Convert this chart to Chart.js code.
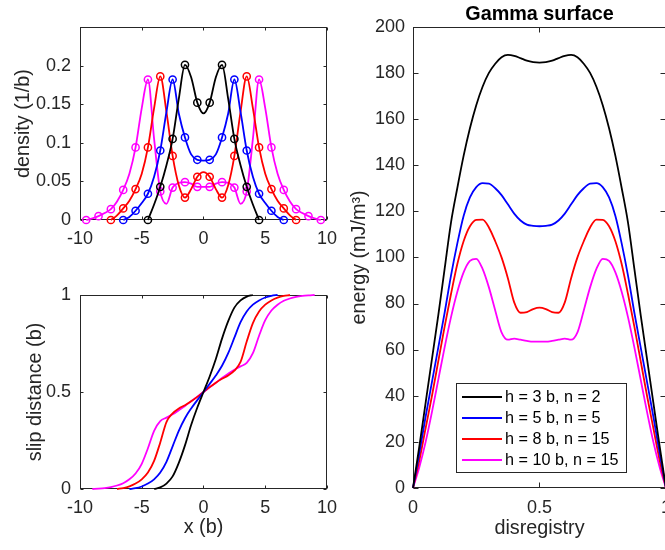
<!DOCTYPE html>
<html><head><meta charset="utf-8">
<script src="https://cdn.jsdelivr.net/npm/chart.js@4/dist/chart.umd.min.js"></script>
<style>
html,body{margin:0;padding:0;background:#fff;overflow:hidden;width:665px;height:550px;}
canvas{position:absolute;}
</style></head><body>
<canvas id="c1" width="345" height="250" style="left:0;top:0"></canvas>
<canvas id="c2" width="345" height="280" style="left:0;top:270px"></canvas>
<canvas id="c3" width="340" height="550" style="left:340px;top:0"></canvas>
<script>
// ---------- DATA ----------
const seriesLabels = ['h = 3 b, n = 2', 'h = 5 b, n = 5', 'h = 8 b, n = 15', 'h = 10 b, n = 15'];
const seriesColors = ['#000000', '#0000ff', '#ff0000', '#ff00ff'];

// density (1/b) vs x (b)
const densityX = [-9.5,-9,-8.5,-8,-7.5,-7,-6.5,-6,-5.5,-5,-4.5,-4,-3.5,-3,-2.5,-2,-1.5,-1,-0.5,0,0.5,1,1.5,2,2.5,3,3.5,4,4.5,5,5.5,6,6.5,7,7.5,8,8.5,9,9.5];
const densityH3 = [null,null,null,null,null,null,null,null,null,null,
  0,0.020,0.043,0.071,0.105,0.157,0.201,0.185,0.152,0.138,0.152,0.185,0.201,0.157,0.105,0.071,0.043,0.020,0,
  null,null,null,null,null,null,null,null,null,null];
const densityH5 = [null,null,null,null,null,null,
  0,0.004,0.012,0.022,0.034,0.056,0.090,0.140,0.182,0.138,0.107,0.085,0.078,0.077,0.078,0.085,0.107,0.138,0.182,0.140,0.090,0.056,0.034,0.022,0.012,0.004,0,
  null,null,null,null,null,null];
const densityH8 = [null,null,null,null,
  0,0.006,0.015,0.025,0.040,0.060,0.094,0.145,0.186,0.140,0.083,0.045,0.029,0.040,0.056,0.062,0.056,0.040,0.029,0.045,0.083,0.140,0.186,0.145,0.094,0.060,0.040,0.025,0.015,0.006,0,
  null,null,null,null];
const densityH10 = [0,0.002,0.005,0.009,0.014,0.024,0.039,0.060,0.094,0.145,0.182,0.105,0.037,0.021,0.042,0.048,0.049,0.047,0.043,0.043,
  0.043,0.047,0.049,0.048,0.042,0.021,0.037,0.105,0.182,0.145,0.094,0.060,0.039,0.024,0.014,0.009,0.005,0.002,0];

// slip distance (b) vs x (b)
const slipX = [-9,-8.5,-8,-7.5,-7,-6.5,-6,-5.5,-5,-4.5,-4,-3.5,-3,-2.5,-2,-1.5,-1,-0.5,0,0.5,1,1.5,2,2.5,3,3.5,4,4.5,5,5.5,6,6.5,7,7.5,8,8.5,9];
const slipH3 = [null,null,null,null,null,null,null,null,null,null,
  0,0.008,0.028,0.065,0.135,0.225,0.33,0.42,0.5,0.58,0.67,0.775,0.865,0.935,0.972,0.992,1,
  null,null,null,null,null,null,null,null,null,null];
const slipH5 = [null,null,null,null,null,null,
  0,0.004,0.013,0.028,0.05,0.085,0.14,0.22,0.3,0.365,0.415,0.458,0.5,0.542,0.585,0.635,0.7,0.78,0.86,0.915,0.95,0.972,0.987,0.996,1,
  null,null,null,null,null,null];
const slipH8 = [null,null,null,null,
  0,0.005,0.014,0.028,0.05,0.085,0.145,0.24,0.345,0.39,0.415,0.432,0.452,0.475,0.5,0.525,0.548,0.568,0.585,0.61,0.655,0.76,0.855,0.915,0.95,0.972,0.986,0.995,1,
  null,null,null,null];
const slipH10 = [0,0.002,0.005,0.01,0.018,0.03,0.05,0.08,0.13,0.21,0.3,0.35,0.368,0.385,0.406,0.428,0.452,0.476,0.5,
  0.524,0.548,0.572,0.594,0.615,0.632,0.65,0.7,0.79,0.87,0.92,0.95,0.97,0.982,0.99,0.995,0.998,1];

// Gamma surface: energy (mJ/m^2) vs disregistry
const gammaX = [0,0.025,0.05,0.075,0.1,0.125,0.15,0.175,0.2,0.225,0.25,0.275,0.3,0.325,0.35,0.375,0.4,0.425,0.45,0.475,0.5,
  0.525,0.55,0.575,0.6,0.625,0.65,0.675,0.7,0.725,0.75,0.775,0.8,0.825,0.85,0.875,0.9,0.925,0.95,0.975,1];
const gammaH3 = [0,18,37,56,75,95,115,130,144,156,166,174,180,184,186.8,187.8,187.4,186.4,185.3,184.7,184.5,
  184.7,185.3,186.4,187.4,187.8,186.8,184,180,174,166,156,144,130,115,95,75,56,37,18,0];
const gammaH5 = [0,15,31,46,61,76,92,106,118,126,130.5,132.2,132,130,127,123,119,116,114.2,113.7,113.5,
  113.7,114.2,116,119,123,127,130,132,132.2,130.5,126,118,106,92,76,61,46,31,15,0];
const gammaH8 = [0,12,26,40,55,70,84,97,107,113.5,116.3,116.4,113,107,100,91,80.5,76,76.3,77.6,78.2,
  77.6,76.3,76,80.5,91,100,107,113,116.4,116.3,113.5,107,97,84,70,55,40,26,12,0];
const gammaH10 = [0,9,20,33,47,61,74,85,93.5,98.5,99.4,95,87,77,67.5,64.3,64.8,64.3,63.8,63.5,63.5,
  63.5,63.8,64.3,64.8,64.3,67.5,77,87,95,99.4,98.5,93.5,85,74,61,47,33,20,9,0];

// tick labels
const densityYTicks = [0, 0.05, 0.1, 0.15, 0.2];
const xTicksLeft = [-10, -5, 0, 5, 10];
const slipYTicks = [0, 0.5, 1];
const gammaXTicks = [0, 0.5, 1];
const gammaYTicks = [0, 20, 40, 60, 80, 100, 120, 140, 160, 180, 200];

// ---------- HELPERS ----------
const FONT = '"Liberation Sans", Arial, Helvetica, sans-serif';
const AXC = '#262626';
Chart.defaults.font.family = FONT;
Chart.defaults.color = AXC;

const toPts = (xs, ys) => xs.map((x, i) => ({x: x, y: ys[i]})).filter(p => p.y !== null);
const fmt = v => String(Math.round(v * 1e6) / 1e6);

function framePlugin(tickLen) {
  return {
    id: 'frame',
    beforeDatasetsDraw(chart) {
      const {ctx, chartArea: a, scales} = chart;
      ctx.save();
      ctx.strokeStyle = AXC; ctx.lineWidth = 1;
      const L = Math.round(a.left) + 0.5, R = Math.round(a.right) - 0.5;
      const T = Math.round(a.top) + 0.5, B = Math.round(a.bottom) - 0.5;
      ctx.strokeRect(L, T, R - L, B - T);
      ctx.beginPath();
      scales.x.ticks.forEach(t => {
        const p = Math.round(scales.x.getPixelForValue(t.value)) + 0.5;
        ctx.moveTo(p, B); ctx.lineTo(p, B - tickLen);
        ctx.moveTo(p, T); ctx.lineTo(p, T + tickLen);
      });
      scales.y.ticks.forEach(t => {
        const p = Math.round(scales.y.getPixelForValue(t.value)) + 0.5;
        ctx.moveTo(L, p); ctx.lineTo(L + tickLen, p);
        ctx.moveTo(R, p); ctx.lineTo(R - tickLen, p);
      });
      ctx.stroke();
      ctx.restore();
    }
  };
}

const legendPlugin = {
  id: 'legendBox',
  afterDatasetsDraw(chart) {
    const {ctx, chartArea: a} = chart;
    const w = 170, h = 89;
    const x0 = Math.round(a.right - 40 - w), y0 = Math.round(a.bottom - 16 - h);
    ctx.save();
    ctx.fillStyle = '#fff'; ctx.fillRect(x0, y0, w, h);
    ctx.strokeStyle = AXC; ctx.lineWidth = 1; ctx.strokeRect(x0 + 0.5, y0 + 0.5, w, h);
    ctx.font = '16.2px ' + FONT; ctx.textBaseline = 'middle'; ctx.textAlign = 'left';
    chart.data.datasets.forEach((ds, i) => {
      const y = y0 + 14 + i * 21;
      ctx.strokeStyle = ds.borderColor; ctx.lineWidth = 2;
      ctx.beginPath(); ctx.moveTo(x0 + 6, y); ctx.lineTo(x0 + 46, y); ctx.stroke();
      ctx.fillStyle = '#000'; ctx.fillText(ds.label, x0 + 49, y + 1);
    });
    ctx.restore();
  }
};

function lineDs(label, color, xs, ys, markers) {
  return {
    label: label, data: toPts(xs, ys),
    borderColor: color, backgroundColor: color, borderWidth: 1.8,
    cubicInterpolationMode: 'monotone', fill: false, clip: 6,
    pointRadius: markers ? (c => (c.raw && Math.abs(c.raw.x % 1) === 0.5) ? 3.6 : 0) : 0,
    pointStyle: 'circle', pointBorderColor: color, pointBackgroundColor: 'rgba(0,0,0,0)',
    pointBorderWidth: 1.5
  };
}

const tickFont = {size: 18};
const titleFont = {size: 19.8};

function xScale(min, max, ticks, pad, height, title, titlePad) {
  return {
    type: 'linear', min: min, max: max,
    grid: {display: false, drawTicks: false}, border: {display: false},
    afterBuildTicks: s => { s.ticks = ticks.map(v => ({value: v})); },
    ticks: {font: tickFont, color: AXC, padding: pad, maxRotation: 0, autoSkip: false, callback: fmt},
    title: title ? {display: true, text: title, font: titleFont, color: AXC, padding: {top: 0, bottom: titlePad}} : {display: false},
    afterFit: s => { s.height = height; }
  };
}
function yScale(min, max, ticks, pad, width, title, titlePad) {
  return {
    type: 'linear', min: min, max: max,
    grid: {display: false, drawTicks: false}, border: {display: false},
    afterBuildTicks: s => { s.ticks = ticks.map(v => ({value: v})); },
    ticks: {font: tickFont, color: AXC, padding: pad, autoSkip: false, callback: fmt},
    title: {display: true, text: title, font: titleFont, color: AXC, padding: {top: titlePad, bottom: 0}},
    afterFit: s => { s.width = width; }
  };
}

const baseOpts = {
  responsive: false, animation: false, events: [],
  plugins: {legend: {display: false}, tooltip: {enabled: false}}
};

// ---------- CHART 1: density ----------
new Chart(document.getElementById('c1'), {
  type: 'line',
  data: {datasets: [
    lineDs(seriesLabels[0], seriesColors[0], densityX, densityH3, true),
    lineDs(seriesLabels[1], seriesColors[1], densityX, densityH5, true),
    lineDs(seriesLabels[2], seriesColors[2], densityX, densityH8, true),
    lineDs(seriesLabels[3], seriesColors[3], densityX, densityH10, true)
  ]},
  options: Object.assign({}, baseOpts, {
    layout: {padding: {top: 27, right: 12, left: 0, bottom: 0}},
    scales: {
      x: xScale(-10, 10, xTicksLeft, 8, 30, null, 0),
      y: yScale(0, 0.25, densityYTicks, 9, 80, 'density (1/b)', 12)
    }
  }),
  plugins: [framePlugin(3)]
});

// ---------- CHART 2: slip distance ----------
new Chart(document.getElementById('c2'), {
  type: 'line',
  data: {datasets: [
    lineDs(seriesLabels[0], seriesColors[0], slipX, slipH3, false),
    lineDs(seriesLabels[1], seriesColors[1], slipX, slipH5, false),
    lineDs(seriesLabels[2], seriesColors[2], slipX, slipH8, false),
    lineDs(seriesLabels[3], seriesColors[3], slipX, slipH10, false)
  ]},
  options: Object.assign({}, baseOpts, {
    layout: {padding: {top: 25, right: 12, left: 0, bottom: 0}},
    scales: {
      x: xScale(-10, 10, xTicksLeft, 8, 61, 'x (b)', 11),
      y: yScale(0, 1, slipYTicks, 9, 80, 'slip distance (b)', 24)
    }
  }),
  plugins: [framePlugin(3)]
});

// ---------- CHART 3: gamma surface ----------
new Chart(document.getElementById('c3'), {
  type: 'line',
  data: {datasets: [
    lineDs(seriesLabels[0], seriesColors[0], gammaX, gammaH3, false),
    lineDs(seriesLabels[1], seriesColors[1], gammaX, gammaH5, false),
    lineDs(seriesLabels[2], seriesColors[2], gammaX, gammaH8, false),
    lineDs(seriesLabels[3], seriesColors[3], gammaX, gammaH10, false)
  ]},
  options: Object.assign({}, baseOpts, {
    layout: {padding: {top: 0, right: 13, left: 0, bottom: 0}},
    plugins: {
      legend: {display: false}, tooltip: {enabled: false},
      title: {display: true, text: 'Gamma surface', fullSize: false, color: '#000',
        font: {size: 19.8, weight: 'bold', lineHeight: 1}, padding: {top: 5, bottom: 2}}
    },
    scales: {
      x: xScale(0, 1, gammaXTicks, 9, 62, 'disregistry', 10),
      y: yScale(0, 200, gammaYTicks, 8, 73, 'energy (mJ/m\u00B3)', 8)
    }
  }),
  plugins: [framePlugin(5), legendPlugin]
});
</script>
</body></html>
